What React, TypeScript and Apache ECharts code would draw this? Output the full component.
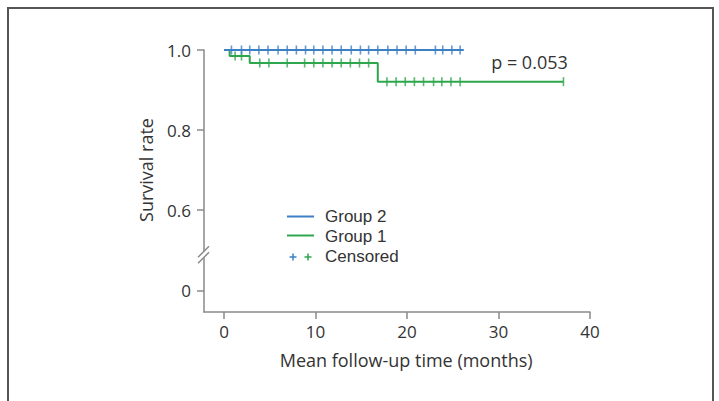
import React, { useEffect, useRef } from "react";
import * as echarts from "echarts";

// ---- data ----
const xTickValues = [0, 10, 20, 30, 40];
const yTickValues = [0, 0.6, 0.8, 1.0];

const group2Name = "Group 2";
const group2StepTimes = [0, 26.2];
const group2StepSurvival = [1, 1];
const group2CensorTimes = [
  0.8, 1.9, 2.8, 3.8, 4.8, 5.9, 6.9, 7.9, 8.9, 9.8, 10.8, 11.8, 12.8, 13.9,
  14.9, 15.8, 16.8, 17.9, 18.9, 19.9, 20.9, 23.1, 23.9, 24.9, 25.8,
];

const group1Name = "Group 1";
const group1StepTimes = [0, 0.6, 2.8, 16.8, 37.1];
const group1StepSurvival = [1, 0.985, 0.9675, 0.921, 0.921];
const group1CensorTimes = [
  1.2, 1.9, 3.9, 4.9, 6.9, 8.8, 9.8, 10.8, 11.8, 12.8, 13.8, 14.8, 15.8, 17.8,
  18.8, 19.8, 20.8, 21.8, 22.9, 23.8, 24.8, 25.8, 37.1,
];

const pValueText = "p = 0.053";
const xAxisTitle = "Mean follow-up time (months)";
const yAxisTitle = "Survival rate";
const censoredLabel = "Censored";

// ---- helpers ----
// broken axis: values below the break (only 0 here) are drawn 0.4 higher
const ZERO_DISPLAY = 0.4;
const BREAK_DISPLAY = 0.49;
const toDisplay = (v: number) => (v >= 0.5 ? v : v + ZERO_DISPLAY);
const fromDisplay = (d: number) => (d >= 0.5 ? d : d - ZERO_DISPLAY);

const survivalAt = (times: number[], surv: number[], t: number) => {
  let s = surv[0];
  for (let i = 0; i < times.length; i++) if (times[i] <= t) s = surv[i];
  return s;
};

const BLUE = "#3d7fc6";
const GREEN = "#2ea64c";
const AXIS = "#8a8a8a";
const TEXT = "#333333";
const FONT = "'Open Sans', sans-serif";
const LEGEND_FONT = "'Liberation Sans', Arial, sans-serif";

export default function App() {
  const ref = useRef<HTMLDivElement>(null);

  useEffect(() => {
    if (!ref.current) return;
    const chart = echarts.init(ref.current, null, { renderer: "svg" });

    const stepData = (times: number[], surv: number[]) =>
      times.map((t, i) => [t, toDisplay(surv[i])]);
    const censorData = (cTimes: number[], times: number[], surv: number[]) =>
      cTimes.map((t) => [t, toDisplay(survivalAt(times, surv, t))]);

    chart.setOption({
      animation: false,
      backgroundColor: "#ffffff",
      grid: { left: 204, right: 129, top: 50, bottom: 89, containLabel: false },
      xAxis: {
        type: "value",
        min: -2.2,
        max: 40,
        splitLine: { show: false },
        axisLine: { show: true, onZero: false, lineStyle: { color: AXIS, width: 1.5 } },
        axisTick: {
          show: true,
          length: 7,
          customValues: xTickValues,
          lineStyle: { color: AXIS, width: 1.5 },
        },
        axisLabel: {
          customValues: xTickValues,
          color: TEXT,
          fontFamily: FONT,
          fontSize: 17,
          margin: 11,
        },
      },
      yAxis: {
        type: "value",
        min: 0.346,
        max: 1.0,
        splitLine: { show: false },
        axisLine: { show: true, onZero: false, lineStyle: { color: AXIS, width: 1.5 } },
        axisTick: {
          show: true,
          length: 7,
          customValues: yTickValues.map(toDisplay),
          lineStyle: { color: AXIS, width: 1.5 },
        },
        axisLabel: {
          customValues: yTickValues.map(toDisplay),
          color: TEXT,
          fontFamily: FONT,
          fontSize: 17,
          margin: 13,
          formatter: (d: number) => {
            const v = fromDisplay(d);
            return Math.abs(v) < 1e-6 ? "0" : v.toFixed(1);
          },
        },
      },
      series: [
        {
          name: group1Name,
          type: "line",
          step: "end",
          data: stepData(group1StepTimes, group1StepSurvival),
          showSymbol: false,
          lineStyle: { color: GREEN, width: 2 },
          itemStyle: { color: GREEN },
          z: 2,
        },
        {
          name: group1Name + " censored",
          type: "scatter",
          data: censorData(group1CensorTimes, group1StepTimes, group1StepSurvival),
          symbol: "rect",
          symbolSize: [1.6, 9],
          itemStyle: { color: GREEN },
          z: 3,
        },
        {
          name: group2Name,
          type: "line",
          step: "end",
          data: stepData(group2StepTimes, group2StepSurvival),
          showSymbol: false,
          lineStyle: { color: BLUE, width: 2 },
          itemStyle: { color: BLUE },
          z: 4,
        },
        {
          name: group2Name + " censored",
          type: "scatter",
          data: censorData(group2CensorTimes, group2StepTimes, group2StepSurvival),
          symbol: "rect",
          symbolSize: [1.6, 9],
          itemStyle: { color: BLUE },
          z: 5,
        },
      ],
    });

    const px = (x: number, y: number) =>
      chart.convertToPixel({ gridIndex: 0 }, [x, y]) as number[];
    const axisOrigin = px(-2.2, BREAK_DISPLAY);
    const ax = axisOrigin[0];
    const cy = axisOrigin[1];
    const pPos = px(29.2, 0.97);
    const xTitlePos = px(19.9, 0.346);

    const legendText = (y: number, text: string) => ({
      type: "text",
      x: 325,
      y,
      style: {
        text,
        fill: TEXT,
        font: `17px ${LEGEND_FONT}`,
        lineHeight: 18,
        textVerticalAlign: "middle",
      },
    });
    const cross = (cx: number, cyy: number, color: string) => ({
      type: "group",
      children: [
        { type: "line", shape: { x1: cx - 3.5, y1: cyy, x2: cx + 3.5, y2: cyy }, style: { stroke: color, lineWidth: 1.5 } },
        { type: "line", shape: { x1: cx, y1: cyy - 3.5, x2: cx, y2: cyy + 3.5 }, style: { stroke: color, lineWidth: 1.5 } },
      ],
    });

    chart.setOption({
      graphic: [
        // outer frame
        {
          type: "rect",
          shape: { x: 8, y: 8, width: 705, height: 420 },
          style: { fill: "none", stroke: "#555555", lineWidth: 2 },
          silent: true,
        },
        // axis break
        {
          type: "rect",
          shape: { x: ax - 3, y: cy - 3, width: 6, height: 6 },
          style: { fill: "#ffffff" },
          z: 100,
        },
        {
          type: "line",
          shape: { x1: ax - 6, y1: cy + 3, x2: ax + 5, y2: cy - 8 },
          style: { stroke: AXIS, lineWidth: 1.5 },
          z: 101,
        },
        {
          type: "line",
          shape: { x1: ax - 6, y1: cy + 9, x2: ax + 5, y2: cy - 2 },
          style: { stroke: AXIS, lineWidth: 1.5 },
          z: 101,
        },
        // p-value
        {
          type: "text",
          x: pPos[0],
          y: pPos[1],
          style: { text: pValueText, fill: TEXT, font: `18px ${FONT}`, textVerticalAlign: "middle" },
        },
        // axis titles
        {
          type: "text",
          x: xTitlePos[0],
          y: 360,
          style: { text: xAxisTitle, fill: TEXT, font: `18px ${FONT}`, textAlign: "center", textVerticalAlign: "middle" },
        },
        {
          type: "text",
          x: 146,
          y: 170,
          rotation: Math.PI / 2,
          style: { text: yAxisTitle, fill: TEXT, font: `18px ${FONT}`, textAlign: "center", textVerticalAlign: "middle" },
        },
        // legend
        { type: "line", shape: { x1: 287, y1: 216.5, x2: 314, y2: 216.5 }, style: { stroke: BLUE, lineWidth: 2 } },
        { type: "line", shape: { x1: 287, y1: 235.5, x2: 314, y2: 235.5 }, style: { stroke: GREEN, lineWidth: 2 } },
        cross(293, 257, BLUE),
        cross(308, 257, GREEN),
        legendText(216, group2Name),
        legendText(236, group1Name),
        legendText(256, censoredLabel),
      ],
    });

    return () => chart.dispose();
  }, []);

  return (
    <div
      ref={ref}
      style={{ position: "fixed", left: 0, top: 0, width: 719, height: 401 }}
    />
  );
}
